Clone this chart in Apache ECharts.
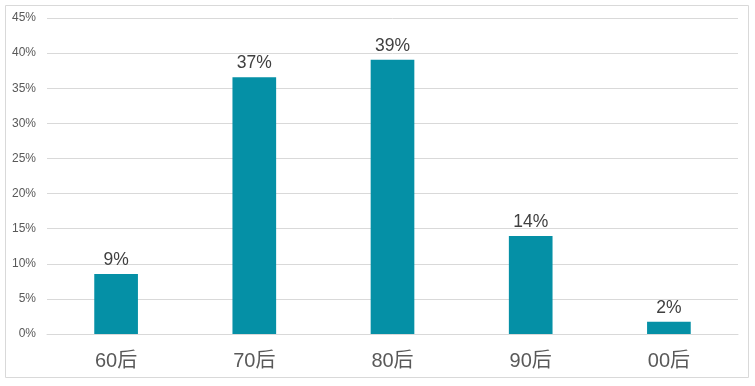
<!DOCTYPE html>
<html><head><meta charset="utf-8">
<script src="https://cdn.jsdelivr.net/npm/echarts@6/dist/echarts.min.js"></script>
<style>html,body{margin:0;padding:0;background:#fff}#c{width:755px;height:386px}</style>
</head><body><div id="c"></div>
<script>
const categories = ['60后', '70后', '80后', '90后', '00后'];
const values = [8.55, 36.55, 39.05, 13.95, 1.75];
const yTicks = [0, 5, 10, 15, 20, 25, 30, 35, 40, 45];

const chart = echarts.init(document.getElementById('c'));
chart.setOption({
  animation: false,
  graphic: [{
    type: 'rect', shape: {x: 5.5, y: 5.5, width: 743, height: 372},
    style: {fill: 'none', stroke: '#d9d9d9', lineWidth: 1}, silent: true
  }],
  grid: {left: 47, right: 17, top: 18, bottom: 52},
  xAxis: {
    type: 'category', data: categories,
    axisLine: {lineStyle: {color: '#d9d9d9'}},
    axisTick: {show: false},
    axisLabel: {color: '#595959', fontSize: 20, margin: 17, fontFamily: 'Liberation Sans, Noto Sans CJK SC, sans-serif'}
  },
  yAxis: {
    type: 'value', min: yTicks[0], max: yTicks[yTicks.length - 1], interval: 5,
    axisLine: {show: false}, axisTick: {show: false},
    splitLine: {lineStyle: {color: '#d9d9d9'}},
    axisLabel: {color: '#595959', fontSize: 12, margin: 11, formatter: v => v + '%', fontFamily: 'Liberation Sans, sans-serif'}
  },
  series: [{
    type: 'bar', data: values, barWidth: '31.6%',
    itemStyle: {color: '#0590A6'},
    label: {show: true, position: 'top', distance: 5, color: '#404040', fontSize: 17.5,
      fontFamily: 'Liberation Sans, sans-serif',
      formatter: p => Math.round(p.value) + '%'}
  }]
});
</script></body></html>
